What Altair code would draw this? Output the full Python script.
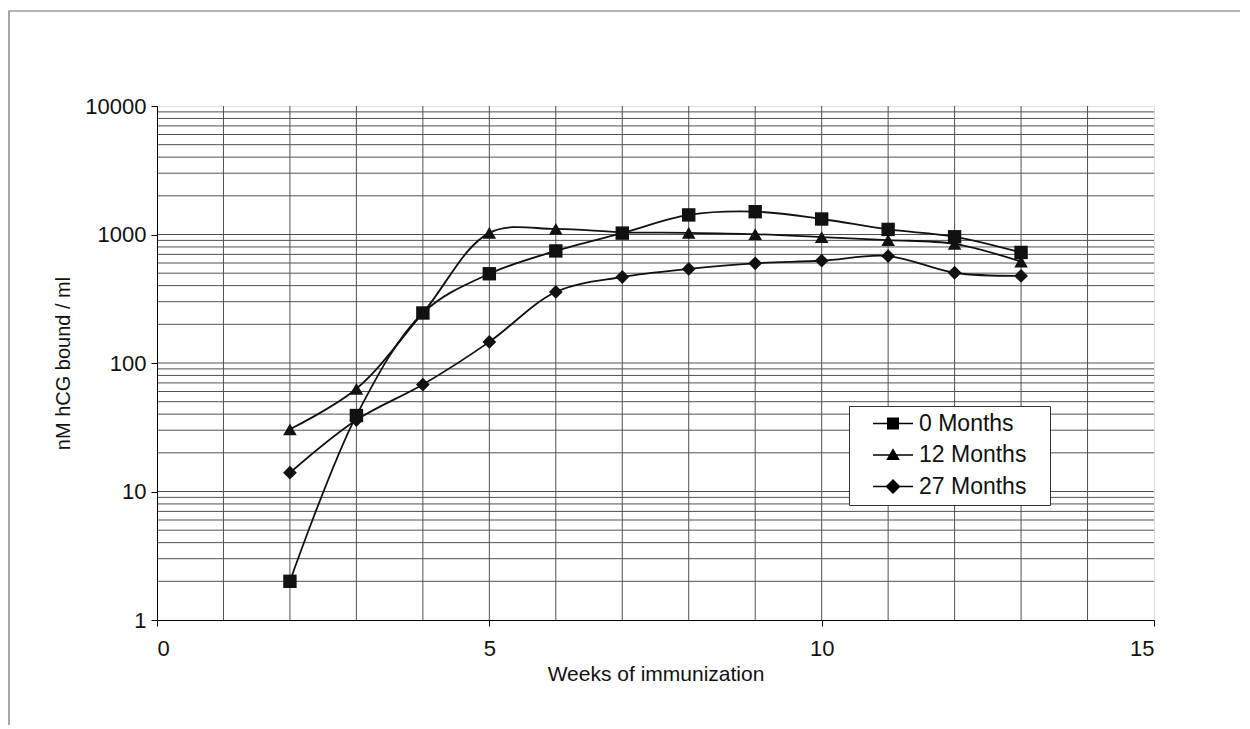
import altair as alt
import pandas as pd

# ---- data ----
weeks = [2, 3, 4, 5, 6, 7, 8, 9, 10, 11, 12, 13]
series_names = ["0 Months", "12 Months", "27 Months"]
m0 = [2, 39, 245, 495, 745, 1025, 1420, 1505, 1320, 1095, 960, 725]
m12 = [30.5, 63, 245, 1030, 1105, 1040, 1030, 1005, 955, 905, 845, 615]
m27 = [14, 36, 68, 146, 357, 467, 540, 597, 625, 680, 504, 476]

x_ticks = [0, 5, 10, 15]
y_ticks = [1, 10, 100, 1000, 10000]
grid_x = list(range(1, 15))
grid_y = [m * 10 ** e for e in range(4) for m in range(1, 10)][1:]

rows = []
for name, vals in zip(series_names, [m0, m12, m27]):
    for w, v in zip(weeks, vals):
        rows.append({"week": w, "value": v, "series": name})
df = pd.DataFrame(rows)

FONT = "Liberation Sans"

xscale = alt.Scale(domain=[0, 15], nice=False, zero=False)
yscale = alt.Scale(type="log", domain=[1, 10000], nice=False)

xaxis = alt.Axis(
    values=x_ticks, format="d", title="Weeks of immunization", grid=False,
    tickSize=6, tickColor="black", domainColor="black", labelFontSize=22,
    labelPadding=12, labelFont=FONT, labelColor="#111", titleFont=FONT,
    titleFontSize=21, titleFontWeight="normal", titleColor="#111", titleY=43,
    zindex=2,
)
yaxis = alt.Axis(
    values=y_ticks, format="d", title="nM hCG bound / ml", grid=False,
    tickSize=6, tickColor="black", domainColor="black", labelFontSize=22,
    labelPadding=5, labelFont=FONT, labelColor="#111", titleFont=FONT,
    titleFontSize=20, titleFontWeight="normal", titleColor="#111", titleX=-84,
    zindex=2,
)

frame = alt.Chart(alt.Data(values=[{}])).mark_rect(
    fill=None, stroke="#6e6e6e", strokeWidth=1.2
).encode(
    x=alt.value(-148), x2=alt.value(1300), y=alt.value(-95), y2=alt.value(800)
)

gx = alt.Chart(pd.DataFrame({"gx": grid_x})).mark_rule(
    color="#505050", strokeWidth=1
).encode(x=alt.X("gx:Q", scale=xscale, axis=xaxis))

gy = alt.Chart(pd.DataFrame({"gy": grid_y})).mark_rule(
    color="#505050", strokeWidth=1
).encode(y=alt.Y("gy:Q", scale=yscale, axis=yaxis))

base = alt.Chart(df)

lines = base.mark_line(
    color="#111111", strokeWidth=1.8, interpolate="catmull-rom"
).encode(
    x=alt.X("week:Q", scale=xscale, axis=xaxis),
    y=alt.Y("value:Q", scale=yscale, axis=yaxis),
    detail="series:N",
)

points = base.mark_point(filled=True, color="#111111", opacity=1).encode(
    x=alt.X("week:Q", scale=xscale, axis=xaxis),
    y=alt.Y("value:Q", scale=yscale, axis=yaxis),
    shape=alt.Shape(
        "series:N",
        scale=alt.Scale(domain=series_names, range=["square", "triangle-up", "diamond"]),
        legend=None,
    ),
    size=alt.Size(
        "series:N",
        scale=alt.Scale(domain=series_names, range=[180, 190, 230]),
        legend=None,
    ),
)

# legend symbols: a short horizontal bar (the line) plus the marker
legend_paths = [
    "M-2,-0.08H2V0.08H-2ZM-0.6,-0.6H0.6V0.6H-0.6Z",
    "M-2,-0.08H2V0.08H-2ZM0,-0.68L0.68,0.5H-0.68Z",
    "M-2,-0.08H2V0.08H-2ZM0,-0.75L0.75,0L0,0.75L-0.75,0Z",
]

legend_layer = base.mark_point(filled=True, color="black", opacity=0).encode(
    x=alt.X("week:Q", scale=xscale, axis=xaxis),
    y=alt.Y("value:Q", scale=yscale, axis=yaxis),
    shape=alt.Shape(
        "series:N",
        scale=alt.Scale(domain=series_names, range=legend_paths),
        legend=alt.Legend(
            title=None, orient="none", legendX=692, legendY=300,
            padding=6, rowPadding=7.5, symbolSize=400, symbolOffset=26.5,
            labelOffset=14.5, labelFontSize=23, labelFont=FONT, labelColor="#111",
            symbolFillColor="#111111", symbolStrokeColor="#111111",
            symbolStrokeWidth=0, symbolOpacity=1,
            strokeColor="#333", fillColor="white", cornerRadius=0,
            labelExpr="datum.label + '\u00a0\u00a0\u2009\u200b'",
        ),
    ),
)

chart = alt.layer(frame, gx, gy, lines, points, legend_layer).resolve_scale(
    shape="independent", size="independent"
).properties(
    width=997, height=514,
    autosize=alt.AutoSizeParams(type="none"),
    padding={"left": 149, "top": 98, "right": 86, "bottom": 105},
).configure_view(
    stroke="#9aa2ae", strokeWidth=1.2
).configure(background="white")

chart.save("out.html", embed_options={"renderer": "svg", "actions": False})
